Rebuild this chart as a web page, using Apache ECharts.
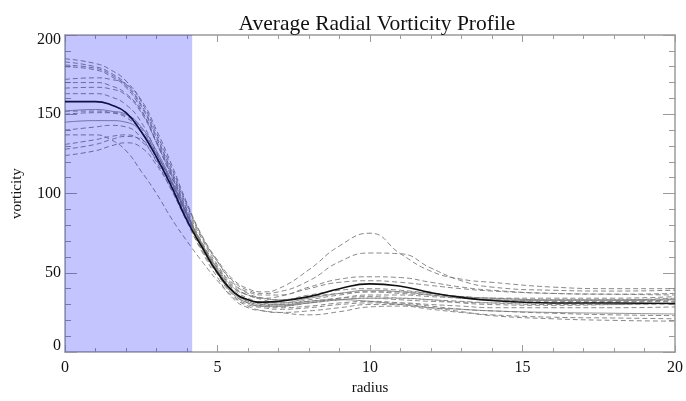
<!DOCTYPE html>
<html>
<head>
<meta charset="utf-8">
<script src="https://cdn.jsdelivr.net/npm/echarts@6/dist/echarts.min.js"></script>
<style>html,body{margin:0;padding:0;background:#fff}#c{width:686px;height:401px}</style>
</head>
<body>
<div id="c"></div>
<script>
// radius sample points
var radius = [0,1,1.5,2,2.5,3,3.5,4,4.5,5,5.5,6,6.5,7,8,9,10,11,12,13,14,16,18,20];
// shaded core region (radius range)
var coreRegion = [0, 4.17];
// mean profile (thick solid)
var meanProfile = [158,158,156,151,139,123,104,83,66,50,38.5,33,31.5,32,35,40,43,41.5,37.5,34.5,32.5,31,31,30.7];
// individual profiles (dashed)
var p01 = [185,182,178,171,158,138,116,93,73,58,46,40,38,40,52,67,75,62,51,46,44,41,40,40];
var p02 = [183,180,176,169,156,136,114,92,72,57,45,39,37,38,45,57,62.5,62,53,45,41,39,38.5,39];
var p03 = [181,179,175,168,155,135,113,90,71,55,43,38,36,36,41,46,47.5,47,44,41,39,37,36.5,37];
var p04 = [180,178,174,167,153,132,110,87,68,53,41,36,34,33,36,39,40,39,37,35,34,33,33,34];
var p05 = [172,173,172,169,159,140,118,94,73,57,44,37,34,33,35,37,38,37,36,35,34,34,34,35];
var p06 = [170,170,168,163,152,133,112,89,69,54,42,36,33,31,32,34,35,34,33,31,30,29.5,30,31];
var p07 = [166.5,167,166,162,151,132,111,88,68,53,41,36,34,35,40,44,45,44,42,40,38.5,37,36.5,36];
var p08 = [163,163,161,156,145,126,106,85,67,52,40,34,31,30,31,33,34,33,32,31.5,31,31,31.5,32];
var p09 = [152,152,151,148,139,122,104,84,65,50,38,32,29,28,29,31,32,31,29,27,26,24.5,23.5,23];
var p10 = [150,151,151,149,141,125,107,87,68,52,39,33,30,29,31,34,36,36,35,34,33,32,32,33];
var p11 = [140,142,143,142,135,120,102,82,63,47,34,28,26,25,23.5,25.5,28.5,29,27,25,23.5,22,21.5,21];
var p12 = [137,137,134,127,114,100,84,70,57,45,35,29,26,25,26,28,30,30,28,25.5,23,21,20,19.5];
var p13 = [131,134,136,137,133,121,104,84,65,50,37,31,29,29,31,33,34,34,33,32,31,30,30,30.5];
var p14 = [128,131,134,136,134,123,106,86,66,51,38,32,30,30,33,36,38,38,37,35,34,33,33,33.5];
var p15 = [124,127,130,132,129,118,102,83,64,49,36,30,28,27,28,30,31,31,30,29,28,28,28,28.5];
// individual profiles (thin solid)
var s01 = [145,146,146,145,139,125,107,86,66,50,37,31,29,29,32,33,32,30,28,27,26,25,24.5,24];
var s02 = [152,153,152,150,142,127,108,87,67,51,38,33,31,31,34,37,39,38,36,34,33,32.5,32.5,33];

var xTicks = {min: 0, max: 20, interval: 5};
var yTicks = {min: 0, max: 200, interval: 50};

function pairs(arr){ return radius.map(function(r,i){ return [r, arr[i]]; }); }

var FONT = "'Liberation Serif','Times New Roman',serif";
var AX = '#9a9a9a';
var SM = 0.5;

var series = [];
[p01,p02,p03,p04,p05,p06,p07,p08,p09,p10,p11,p12,p13,p14,p15].forEach(function(a){
  series.push({type:'line', data:pairs(a), smooth:SM, symbol:'none', silent:true, z:2,
    lineStyle:{color:'#7a7a7a', width:0.9, type:[5,3]}});
});
[s01,s02].forEach(function(a){
  series.push({type:'line', data:pairs(a), smooth:SM, symbol:'none', silent:true, z:2,
    lineStyle:{color:'#777', width:0.8}});
});
series.push({type:'line', data:pairs(meanProfile), smooth:SM, symbol:'none', silent:true, z:3,
  lineStyle:{color:'#111', width:1.6}});
series.push({type:'line', data:[[coreRegion[0], yTicks.max],[coreRegion[1], yTicks.max]], symbol:'none', silent:true, z:10,
  lineStyle:{width:0}, areaStyle:{color:'rgba(0,0,255,0.23)', opacity:1}});

function xAx(pos, labels){
  return {type:'value', position:pos, min:xTicks.min, max:xTicks.max, interval:xTicks.interval,
    name: labels ? 'radius' : '', nameLocation:'middle', nameGap:20,
    nameTextStyle:{fontFamily:FONT, fontSize:15, color:'#111'},
    axisLine:{show:true, onZero:false, lineStyle:{color:AX, width:1.5}},
    axisTick:{show:true, inside:true, length:7, lineStyle:{color:AX}},
    minorTick:{show:true, splitNumber:5, length:4, lineStyle:{color:AX}},
    splitLine:{show:false}, minorSplitLine:{show:false},
    axisLabel:{show:labels, margin:8, fontFamily:FONT, fontSize:16, color:'#111'}};
}
function yAx(pos, labels){
  return {type:'value', position:pos, min:yTicks.min, max:yTicks.max, interval:yTicks.interval,
    name: labels ? 'vorticity' : '', nameLocation:'middle', nameGap:40, nameRotate:90,
    nameTextStyle:{fontFamily:FONT, fontSize:15, color:'#111'},
    axisLine:{show:true, onZero:false, lineStyle:{color:AX, width:1.5}},
    axisTick:{show:true, inside:true, length:12, lineStyle:{color:AX}},
    minorTick:{show:true, splitNumber:5, length:6, lineStyle:{color:AX}},
    splitLine:{show:false}, minorSplitLine:{show:false},
    axisLabel:{show:labels, margin:4, fontFamily:FONT, fontSize:16, color:'#111',
      formatter:function(v){ if(v===yTicks.max) return '{t|'+v+'}'; if(v===yTicks.min) return '{b|'+v+'}'; return ''+v; },
      rich:{t:{fontFamily:FONT, fontSize:16, color:'#111', padding:[9,0,0,0]}, b:{fontFamily:FONT, fontSize:16, color:'#111', padding:[0,0,13,0]}}}};
}

var chart = echarts.init(document.getElementById('c'), null, {renderer:'canvas'});
chart.setOption({
  animation:false,
  backgroundColor:'#fff',
  title:{text:'Average Radial Vorticity Profile', left:372, textAlign:'center', top:8,
    textStyle:{fontFamily:FONT, fontSize:21.5, fontWeight:'normal', color:'#111'}},
  grid:{left:65, right:9, top:35, bottom:47, containLabel:false},
  xAxis:[xAx('bottom', true), xAx('top', false)],
  yAxis:[yAx('left', true), yAx('right', false)],
  series: series
});
</script>
</body>
</html>
